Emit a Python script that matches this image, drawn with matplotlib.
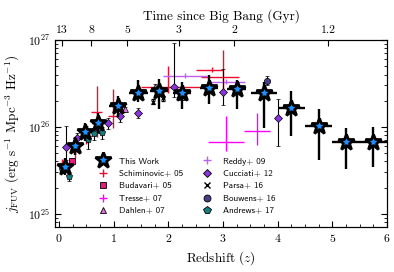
import numpy as np
import matplotlib
matplotlib.use('Agg')
import matplotlib.pyplot as plt
from matplotlib.lines import Line2D
from matplotlib.ticker import MultipleLocator, LogLocator, NullFormatter

plt.rcParams['font.family'] = 'serif'
plt.rcParams['font.serif'] = ['cmr10']
plt.rcParams['mathtext.fontset'] = 'cm'
plt.rcParams['axes.formatter.use_mathtext'] = True

# this work (log10 of j_FUV, errors in dex)
z_tw = [0.11, 0.30, 0.47, 0.72, 1.07, 1.45, 1.83, 2.25, 2.74, 3.25, 3.75, 4.25, 4.75, 5.25, 5.75]
lj_tw = [25.54, 25.78, 25.94, 26.04, 26.24, 26.39, 26.41, 26.39, 26.45, 26.43, 26.39, 26.22, 26.01, 25.82, 25.83]
xe_tw = [0.07, 0.1, 0.1, 0.12, 0.15, 0.17, 0.17, 0.17, 0.17, 0.17, 0.23, 0.25, 0.25, 0.25, 0.25]
up_tw = [0.1, 0.1, 0.1, 0.12, 0.12, 0.15, 0.14, 0.13, 0.15, 0.11, 0.13, 0.19, 0.2, 0.17, 0.17]
dn_tw = [0.1, 0.1, 0.1, 0.11, 0.13, 0.1, 0.21, 0.19, 0.19, 0.23, 0.4, 0.33, 0.39, 0.31, 0.29]

# Schiminovich+05
z_sc = [0.055, 0.3, 0.5, 0.69, 0.99, 2.0, 3.0, 2.8]
lj_sc = [25.58, 25.72, 25.9, 26.165, 26.12, 26.46, 26.57, 26.66]
xlo_sc = [0.03, 0.1, 0.1, 0.1, 0.1, 0.5, 0.4, 0.3]
xhi_sc = [0.03, 0.1, 0.1, 0.1, 0.1, 0.75, 0.3, 0.2]
up_sc = [0.05, 0.08, 0.1, 0.3, 0.32, 0.24, 0.32, 0.03]
dn_sc = [0.05, 0.08, 0.1, 0.28, 0.13, 0.07, 0.22, 0.03]

# Budavari+05
z_bu = [0.23]
lj_bu = [25.61]

# Tresse+07
z_tr = [3.05, 3.62]
lj_tr = [25.82, 25.955]
xe_tr = [0.33, 0.23]
up_tr = [0.30, 0.2]
dn_tr = [0.10, 0.16]

# Dahlen+07
z_da = [1.2, 1.75, 2.25]
lj_da = [26.20, 26.46, 26.34]

# Reddy+09
z_re = [2.3, 3.05]
lj_re = [26.59, 26.52]
xlo_re = [0.4, 0.35]
xhi_re = [0.4, 0.35]

# Cucciati+12
z_cu = [0.13, 0.32, 0.5, 0.73, 0.9, 1.12, 1.45, 2.11, 3.0, 4.0]
lj_cu = [25.77, 25.87, 25.96, 25.98, 26.04, 26.12, 26.16, 26.46, 26.40, 26.10]
up_cu = [0.24, 0.06, 0.05, 0.05, 0.06, 0.07, 0.06, 0.5, 0.27, 0.22]
dn_cu = [0.15, 0.06, 0.05, 0.05, 0.06, 0.07, 0.06, 0.12, 0.15, 0.32]

# Parsa+16
z_pa = [1.71, 1.91]
lj_pa = [26.29, 26.33]

# Bouwens+16
z_bo = [3.8]
lj_bo = [26.53]

# Andrews+17
z_an = [0.06, 0.18, 0.52, 0.64, 0.78]
lj_an = [25.52, 25.43, 25.86, 25.93, 25.94]
up_an = [0.05, 0.05, 0.08, 0.06, 0.06]
dn_an = [0.05, 0.05, 0.12, 0.08, 0.08]

ages = [13, 8, 5, 3, 2, 1.2]
age_labels = ['13', '8', '5', '3', '2', '1.2']


def lin(lj, up, dn):
    lj = np.array(lj)
    j = 10**lj
    return j, [j - 10**(lj - np.array(dn)), 10**(lj + np.array(up)) - j]


def z_of_age(t, H0=67.74, Om=0.3089):
    OL = 1 - Om
    th = 977.8 / H0
    x = np.sinh(np.array(t) * 1.5 * np.sqrt(OL) / th) / np.sqrt(OL / Om)
    return x**(-2. / 3.) - 1


fig = plt.figure(figsize=(3.94, 2.72), dpi=100)
ax = fig.add_axes([0.1396, 0.165, 0.8427, 0.688])

small = dict(capsize=1.5, elinewidth=0.8, capthick=0.8, ecolor='k')

j, e = lin(lj_sc, up_sc, dn_sc)
ax.errorbar(z_sc, j, yerr=e, xerr=[xlo_sc, xhi_sc], fmt='none', ecolor='#e8102e', elinewidth=1.0, zorder=3)

j, e = lin(lj_bu, [0.03], [0.03])
ax.errorbar(z_bu, j, yerr=e, fmt='s', ms=4.5, mfc='#e6197d', mec='k', mew=0.6, zorder=4, **small)

j, e = lin(lj_tr, up_tr, dn_tr)
ax.errorbar(z_tr, j, yerr=e, xerr=xe_tr, fmt='none', ecolor='#ff00ff', elinewidth=1.0, zorder=3)

j, e = lin(lj_da, [0.03] * 3, [0.03] * 3)
ax.errorbar(z_da, j, yerr=e, fmt='^', ms=4, mfc='#dd77dd', mec='k', mew=0.5, zorder=4, **small)

j, e = lin(lj_re, [0.03] * 2, [0.03] * 2)
ax.errorbar(z_re, j, yerr=e, xerr=[xlo_re, xhi_re], fmt='none', ecolor='#c060f0', elinewidth=1.0, zorder=3)

j, e = lin(lj_cu, up_cu, dn_cu)
ax.errorbar(z_cu, j, yerr=e, fmt='D', ms=4, mfc='#8a35d8', mec='k', mew=0.5, zorder=4, **small)

j, e = lin(lj_pa, [0.03] * 2, [0.03] * 2)
ax.errorbar(z_pa, j, yerr=e, fmt='x', ms=3.5, mec='k', mew=0.9, zorder=4, **small)

j, e = lin(lj_bo, [0.05], [0.05])
ax.errorbar(z_bo, j, yerr=e, fmt='o', ms=4.5, mfc='#483d8b', mec='k', mew=0.5, zorder=4, **small)

j, e = lin(lj_an, up_an, dn_an)
ax.errorbar(z_an, j, yerr=e, fmt='p', ms=5, mfc='#17807f', mec='k', mew=0.5, zorder=4, **small)

j, e = lin(lj_tw, up_tw, dn_tw)
ax.errorbar(z_tw, j, yerr=e, xerr=xe_tw, fmt='none', ecolor='k', elinewidth=1.7, zorder=6)
ax.plot(z_tw, j, '*', ms=12, mfc='#1e8fff', mec='k', mew=2.0, ls='none', zorder=7)

ax.set_yscale('log')
ax.set_xlim(-0.075, 6.0)
ax.set_ylim(7e24, 1e27)
ax.xaxis.set_major_locator(MultipleLocator(1))
ax.xaxis.set_minor_locator(MultipleLocator(0.25))
ax.yaxis.set_minor_locator(LogLocator(base=10, subs=np.arange(2, 10), numticks=12))
ax.yaxis.set_minor_formatter(NullFormatter())
ax.tick_params(which='both', direction='in', right=True, labelsize=8.5)
ax.tick_params(which='major', length=4.5, width=0.8)
ax.tick_params(which='minor', length=2.5, width=0.6)
ax.set_xlabel('Redshift ($z$)', fontsize=9.5)
ax.set_ylabel(r'$j_{\rm FUV}$ (erg s$^{-1}$ Mpc$^{-3}$ Hz$^{-1}$)', fontsize=9.5)

ax2 = ax.twiny()
ax2.set_xlim(ax.get_xlim())
ax2.set_xticks(z_of_age(ages))
ax2.set_xticklabels(age_labels)
ax2.xaxis.set_minor_locator(plt.NullLocator())
ax2.tick_params(direction='in', length=4.5, width=0.8, labelsize=8.5)
ax2.set_xlabel('Time since Big Bang (Gyr)', fontsize=9.5)

handles = [
    Line2D([], [], marker='*', ms=12, mfc='#1e8fff', mec='k', mew=2.0, ls='none'),
    Line2D([], [], marker='+', ms=6, mec='#e8102e', mew=1.0, ls='none'),
    Line2D([], [], marker='s', ms=4.5, mfc='#e6197d', mec='k', mew=0.6, ls='none'),
    Line2D([], [], marker='+', ms=6, mec='#ff00ff', mew=1.0, ls='none'),
    Line2D([], [], marker='^', ms=4.5, mfc='#dd77dd', mec='k', mew=0.6, ls='none'),
    Line2D([], [], marker='+', ms=6, mec='#c060f0', mew=1.0, ls='none'),
    Line2D([], [], marker='D', ms=4, mfc='#8a35d8', mec='k', mew=0.6, ls='none'),
    Line2D([], [], marker='x', ms=4, mec='k', mew=1.0, ls='none'),
    Line2D([], [], marker='o', ms=5, mfc='#483d8b', mec='k', mew=0.6, ls='none'),
    Line2D([], [], marker='p', ms=5.5, mfc='#17807f', mec='k', mew=0.6, ls='none'),
]
labels = ['This Work', 'Schiminovic+ 05', 'Budavari+ 05', 'Tresse+ 07', 'Dahlen+ 07',
          'Reddy+ 09', 'Cucciati+ 12', 'Parsa+ 16', 'Bouwens+ 16', 'Andrews+ 17']
ax.legend(handles, labels, ncol=2, loc='lower left', bbox_to_anchor=(0.11, 0.04),
          frameon=False, prop={'family': 'cmss10', 'size': 6.5}, handletextpad=1.0,
          columnspacing=1.9, labelspacing=0.45, borderpad=0, handlelength=1.5)

plt.savefig('out.png', dpi=100)
